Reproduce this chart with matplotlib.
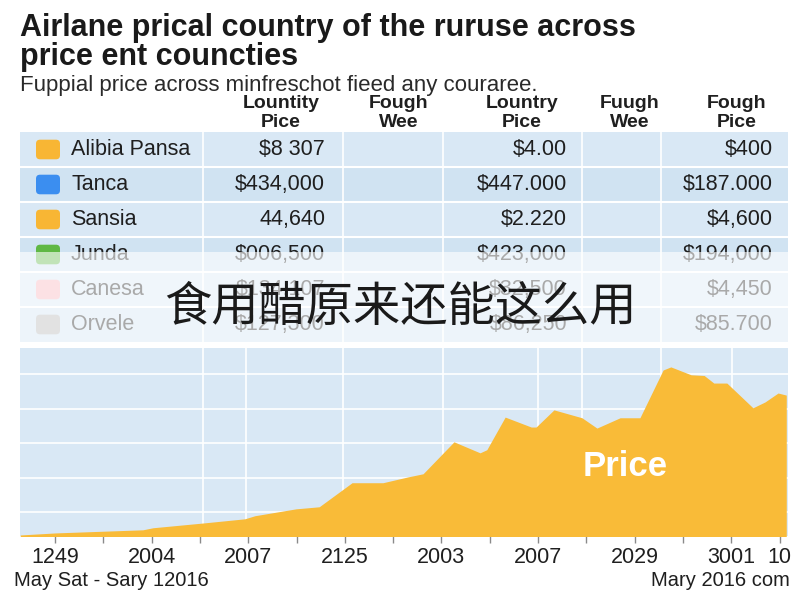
import matplotlib
matplotlib.use("Agg")
import matplotlib.pyplot as plt
from matplotlib.patches import Rectangle, FancyBboxPatch

# ---- data ----
row_names = ["Alibia Pansa", "Tanca", "Sansia", "Junda", "Canesa", "Orvele"]
row_colors = ["#f8b634", "#3b8ef0", "#f8b634", "#5fb844", "#f9b3ba", "#b5b5b5"]
col1_vals = ["$8 307", "$434,000", "44,640", "$006,500", "$134,107", "$127,300"]
col3_vals = ["$4.00", "$447.000", "$2.220", "$423,000", "$32,500", "$86,250"]
col5_vals = ["$400", "$187.000", "$4,600", "$194,000", "$4,450", "$85.700"]
header_labels = ["Lountity\nPice", "Fough\nWee", "Lountry\nPice", "Fuugh\nWee", "Fough\nPice"]

price_x = [-0.72, 0.02, 1.82, 2.03, 3.08, 3.93, 4.14, 4.99, 5.47, 6.15, 6.79, 7.31,
           7.62, 8.26, 8.80, 8.94, 9.32, 9.86, 9.96, 10.33, 10.91, 11.22, 11.70,
           12.11, 12.59, 12.75, 13.17, 13.44, 13.64, 13.91, 14.45, 14.70, 14.97, 15.14]
price_y = [33, 39, 48, 54, 68, 80, 89, 109, 115, 185, 185, 202,
           211, 304, 272, 281, 376, 347, 347, 397, 374, 344, 374,
           374, 513, 522, 499, 497, 475, 475, 403, 420, 446, 440]

tick_pos = [0, 2, 4, 6, 8, 10, 12, 14, 15]
tick_labels = ["1249", "2004", "2007", "2125", "2003", "2007", "2029", "3001", "10"]
minor_pos = [1, 3, 5, 7, 9, 11, 13]

# ---- layout helpers (pixel -> figure fraction) ----
W, H = 800, 600
def fx(x):
    return x / W
def fy(y):
    return 1 - y / H

panel_left, panel_right = 20, 788
table_top, row_h = 132, 35
chart_top, chart_bottom = 348, 536
col_edges = [203, 343, 443, 582, 661]
header_x = [281, 399, 522, 630, 737]
value_right = [325, 567, 773]
chart_vgrid_px = [203, 246, 343, 443, 538, 582, 661, 732]
x0_px, x_step = 55, 48.3

blue_bg = "#d9e8f5"
blue_alt = "#d0e3f2"
orange = "#f9bb38"
ink = "#1f1f1f"

plt.rcParams["font.family"] = ["Liberation Sans", "DejaVu Sans"]
fig = plt.figure(figsize=(8, 6), dpi=100, facecolor="white")

# titles
fig.text(fx(20), fy(28), "Airlane prical country of the ruruse across", fontsize=22,
         fontweight="bold", color="#1a1a1a", va="center", ha="left")
fig.text(fx(20), fy(57), "price ent councties", fontsize=22,
         fontweight="bold", color="#1a1a1a", va="center", ha="left")
fig.text(fx(20), fy(86), "Fuppial price across minfreschot fieed any couraree.",
         fontsize=16, color="#2a2a2a", va="center", ha="left")

# ---- table ----
n = len(row_names)
tax = fig.add_axes([fx(panel_left), fy(table_top + n * row_h),
                    (panel_right - panel_left) / W, n * row_h / H])
tax.set_xlim(panel_left, panel_right)
tax.set_ylim(n, 0)
tax.axis("off")
for i in range(n):
    tax.add_patch(Rectangle((panel_left, i), panel_right - panel_left, 1,
                            facecolor=blue_bg if i % 2 == 0 else blue_alt,
                            edgecolor="none", zorder=0))
    if i > 0:
        tax.axhline(i, color="white", lw=1.5, zorder=1)
    tax.add_patch(FancyBboxPatch((36, i + 0.22), 24, 0.56,
                                 boxstyle="round,pad=0,rounding_size=4",
                                 mutation_aspect=1 / row_h,
                                 facecolor=row_colors[i], edgecolor="none", zorder=2))
    tax.text(71, i + 0.5, row_names[i], fontsize=15.5, color=ink,
             va="center", ha="left", zorder=3)
    for xr, vals in zip(value_right, [col1_vals, col3_vals, col5_vals]):
        tax.text(xr, i + 0.5, vals[i], fontsize=15.5, color=ink,
                 va="center", ha="right", zorder=3)
for xe in col_edges:
    tax.axvline(xe, color="white", lw=1.2, zorder=1)
for hx, lab in zip(header_x, header_labels):
    tax.text(hx, (113 - table_top) / row_h, lab, fontsize=14, fontweight="bold",
             color=ink, va="center", ha="center", linespacing=1.1, clip_on=False)

# ---- area chart ----
ax = fig.add_axes([fx(panel_left), fy(chart_bottom),
                   (panel_right - panel_left) / W, (chart_bottom - chart_top) / H])
ax.set_facecolor(blue_bg)
ax.set_xlim((panel_left - x0_px) / x_step, (panel_right - x0_px) / x_step)
ax.set_ylim(30, 577)
ax.fill_between(price_x, price_y, 0, color=orange, lw=0, zorder=3)
ax.set_yticks([100, 200, 300, 400, 500])
ax.yaxis.grid(True, color="white", lw=1.2, zorder=1)
for px in chart_vgrid_px:
    ax.axvline((px - x0_px) / x_step, color="white", lw=1.2, zorder=1)
ax.set_axisbelow(True)
ax.set_xticks(tick_pos)
ax.set_xticklabels(tick_labels)
ax.set_xticks(minor_pos, minor=True)
ax.tick_params(axis="x", which="both", length=5, width=1, color="#8a8a8a",
               labelsize=15.5, labelcolor=ink, pad=3)
ax.tick_params(axis="y", left=False, labelleft=False)
for s in ax.spines.values():
    s.set_visible(False)
ax.text((625 - x0_px) / x_step, 231, "Price", fontsize=25, fontweight="bold",
        color="white", ha="center", va="center", zorder=4)

# ---- white overlay band with caption ----
fig.patches.append(Rectangle((fx(panel_left), fy(chart_top)),
                             (panel_right - panel_left) / W, (chart_top - 252) / H,
                             transform=fig.transFigure, facecolor="white",
                             alpha=0.62, edgecolor="none", zorder=5))
fig.text(0.5, fy(308), "食用醋原来还能这么用", fontsize=34, color="#1a1a1a",
         family=["Noto Sans CJK SC", "DejaVu Sans"], ha="center", va="center", zorder=6)

# footers
fig.text(fx(14), fy(581), "May Sat - Sary 12016", fontsize=14.5, color=ink,
         ha="left", va="center")
fig.text(fx(790), fy(581), "Mary 2016 com", fontsize=14.5, color=ink,
         ha="right", va="center")

fig.savefig("out.png", dpi=100, facecolor="white")
